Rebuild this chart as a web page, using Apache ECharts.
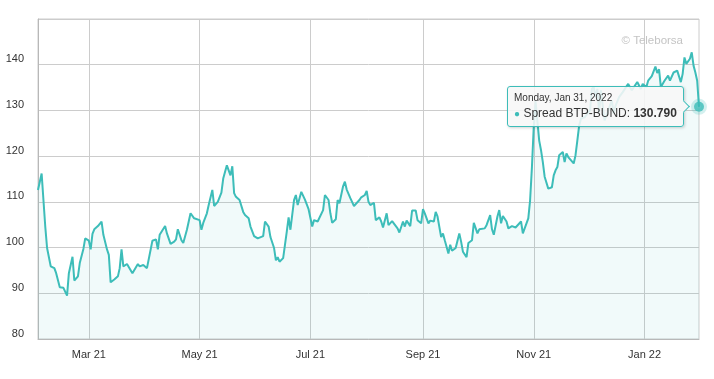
<!DOCTYPE html>
<html>
<head>
<meta charset="utf-8">
<script src="https://cdn.jsdelivr.net/npm/echarts@6/dist/echarts.min.js"></script>
<style>
html,body{margin:0;padding:0;background:#fff;}
#c{width:714px;height:379px;}
</style>
</head>
<body>
<div id="c"></div>
<script>
var seriesName = 'Spread BTP-BUND';
var yTicks = [80, 90, 100, 110, 120, 130, 140];
var xTickDates = ['2021-03-01', '2021-05-01', '2021-07-01', '2021-09-01', '2021-11-01', '2022-01-01'];
var dates = [
'2021-02-01','2021-02-03','2021-02-05','2021-02-06','2021-02-08','2021-02-10','2021-02-11','2021-02-13','2021-02-15','2021-02-16',
'2021-02-17','2021-02-18','2021-02-20','2021-02-21','2021-02-23','2021-02-24','2021-02-26','2021-02-27','2021-03-01','2021-03-02',
'2021-03-03','2021-03-04','2021-03-06','2021-03-08','2021-03-09','2021-03-11','2021-03-12','2021-03-13','2021-03-15','2021-03-17',
'2021-03-18','2021-03-19','2021-03-20','2021-03-22','2021-03-23','2021-03-25','2021-03-26','2021-03-28','2021-03-29','2021-03-31',
'2021-04-02','2021-04-03','2021-04-05','2021-04-07','2021-04-08','2021-04-09','2021-04-10','2021-04-12','2021-04-13','2021-04-15',
'2021-04-17','2021-04-18','2021-04-19','2021-04-21','2021-04-22','2021-04-24','2021-04-25','2021-04-26','2021-04-28','2021-04-29',
'2021-05-01','2021-05-02','2021-05-03','2021-05-05','2021-05-06','2021-05-08','2021-05-09','2021-05-11','2021-05-13','2021-05-14',
'2021-05-16','2021-05-18','2021-05-19','2021-05-20','2021-05-21','2021-05-23','2021-05-25','2021-05-26','2021-05-28','2021-05-29',
'2021-05-30','2021-05-31','2021-06-02','2021-06-03','2021-06-05','2021-06-06','2021-06-08','2021-06-09','2021-06-11','2021-06-12',
'2021-06-13','2021-06-14','2021-06-16','2021-06-17','2021-06-18','2021-06-19','2021-06-20','2021-06-22','2021-06-23','2021-06-24',
'2021-06-26','2021-06-28','2021-06-30','2021-07-02','2021-07-03','2021-07-05','2021-07-06','2021-07-08','2021-07-09','2021-07-11',
'2021-07-12','2021-07-13','2021-07-15','2021-07-16','2021-07-17','2021-07-19','2021-07-20','2021-07-21','2021-07-23','2021-07-25',
'2021-07-26','2021-07-28','2021-07-29','2021-07-31','2021-08-01','2021-08-02','2021-08-03','2021-08-05','2021-08-06','2021-08-08',
'2021-08-09','2021-08-10','2021-08-12','2021-08-13','2021-08-15','2021-08-16','2021-08-18','2021-08-19','2021-08-21','2021-08-22',
'2021-08-23','2021-08-25','2021-08-26','2021-08-28','2021-08-29','2021-08-31','2021-09-01','2021-09-02','2021-09-04','2021-09-05',
'2021-09-07','2021-09-08','2021-09-09','2021-09-11','2021-09-12','2021-09-13','2021-09-15','2021-09-16','2021-09-17','2021-09-19',
'2021-09-20','2021-09-21','2021-09-22','2021-09-23','2021-09-25','2021-09-26','2021-09-28','2021-09-29','2021-10-01','2021-10-02',
'2021-10-03','2021-10-05','2021-10-06','2021-10-08','2021-10-09','2021-10-10','2021-10-12','2021-10-13','2021-10-14','2021-10-15',
'2021-10-16','2021-10-17','2021-10-18','2021-10-20','2021-10-22','2021-10-23','2021-10-25','2021-10-26','2021-10-28','2021-10-29',
'2021-10-30','2021-10-31','2021-11-01','2021-11-02','2021-11-04','2021-11-05','2021-11-06','2021-11-07','2021-11-08','2021-11-09',
'2021-11-11','2021-11-12','2021-11-13','2021-11-14','2021-11-15','2021-11-17','2021-11-18','2021-11-19','2021-11-20','2021-11-21',
'2021-11-23','2021-11-24','2021-11-25','2021-11-26','2021-11-27','2021-11-29','2021-12-01','2021-12-02','2021-12-03','2021-12-04',
'2021-12-05','2021-12-06','2021-12-07','2021-12-08','2021-12-10','2021-12-12','2021-12-14','2021-12-15','2021-12-16','2021-12-18',
'2021-12-20','2021-12-23','2021-12-25','2021-12-26','2021-12-28','2021-12-30','2021-12-31','2022-01-02','2022-01-03','2022-01-05',
'2022-01-07','2022-01-08','2022-01-09','2022-01-10','2022-01-12','2022-01-14','2022-01-15','2022-01-17','2022-01-19','2022-01-21',
'2022-01-22','2022-01-23','2022-01-24','2022-01-26','2022-01-27','2022-01-28','2022-01-29','2022-01-30','2022-01-31'
];
var values = [
112.6,116.2,104.6,99.9,95.9,95.5,94.4,91.3,91.2,90.8,
89.5,94.4,98.0,92.8,93.7,96.6,99.7,102.0,101.5,99.6,
103.0,104.0,104.7,105.7,102.8,99.6,98.4,92.4,93.0,93.7,
95.5,99.6,95.9,96.4,96.2,94.4,94.8,96.4,95.9,96.2,
95.5,95.1,101.5,101.8,99.6,102.8,102.5,104.7,103.1,100.8,
101.3,101.8,104.0,101.6,101.0,103.9,105.7,107.5,106.4,106.8,
106.0,103.9,105.4,107.5,109.3,112.6,109.1,110.0,112.0,115.1,
118.0,115.8,117.8,111.9,111.1,110.4,107.8,107.1,106.4,104.6,
104.4,102.5,102.0,101.8,102.5,105.7,104.6,102.3,99.9,97.2,
97.9,96.9,97.7,100.6,103.5,106.6,103.9,110.4,111.5,109.3,
112.2,110.5,108.4,104.6,106.0,105.7,105.3,108.2,111.5,110.4,
107.5,105.4,106.2,110.4,109.7,113.4,114.4,112.7,110.8,109.1,
108.9,110.4,111.0,111.5,112.4,110.0,109.3,109.8,106.0,106.6,
105.7,104.4,107.5,104.9,105.8,105.4,104.2,103.3,105.7,104.6,
105.9,104.7,108.1,108.1,106.0,105.3,108.4,107.5,105.3,105.9,
105.7,107.8,106.8,102.3,103.1,101.6,98.7,100.6,99.3,99.9,
101.5,103.1,101.3,99.1,97.9,101.0,101.6,105.4,103.1,104.0,
103.9,104.2,104.9,107.1,104.0,102.8,106.8,108.2,105.3,106.9,
106.6,105.7,104.2,104.7,104.4,104.0,105.7,103.1,105.3,106.4,
110.4,117.6,126.4,132.0,123.4,121.3,118.7,115.5,115.1,112.9,
113.2,115.8,116.9,117.6,120.2,120.9,118.7,120.6,119.8,119.5,
118.4,120.2,123.4,126.7,128.2,128.5,129.5,130.0,134.7,135.2,
132.9,134.7,129.6,134.4,127.8,130.0,132.2,129.3,131.0,132.9,
134.0,135.8,134.4,135.0,136.2,134.7,135.8,135.1,136.5,137.5,
139.6,138.2,139.0,135.1,136.5,137.6,136.5,138.3,138.7,136.2,
138.0,141.6,140.2,141.3,142.7,139.8,138.3,136.5,130.79
];

var teal = '#3dbdb9';
var font = '"Liberation Sans", Arial, Helvetica, sans-serif';
var monthNames = ['Jan','Feb','Mar','Apr','May','Jun','Jul','Aug','Sep','Oct','Nov','Dec'];
var dayNames = ['Sunday','Monday','Tuesday','Wednesday','Thursday','Friday','Saturday'];
function ts(s){ var p = s.split('-'); return Date.UTC(+p[0], +p[1]-1, +p[2]); }

var lineData = dates.map(function(d,i){ return [ts(d), values[i]]; });
var lastIdx = dates.length - 1;
var lastPoint = [[ts(dates[lastIdx]), values[lastIdx]]];
var xTicks = xTickDates.map(ts);

var chart = echarts.init(document.getElementById('c'), null, {renderer:'canvas'});
chart.setOption({
  animation: false,
  backgroundColor: '#ffffff',
  textStyle: {fontFamily: font},
  grid: {left: 38, right: 15, top: 19, bottom: 40, show: true, borderColor: '#cccccc', borderWidth: 1},
  xAxis: {
    type: 'value',
    min: ts('2021-02-01'),
    max: ts('2022-01-31'),
    axisLine: {show: true, onZero: false, lineStyle: {color: '#b8b8b8', width: 1}},
    axisTick: {show: false, customValues: xTicks},
    splitLine: {show: true, lineStyle: {color: '#cccccc', width: 1}},
    axisLabel: {
      customValues: xTicks,
      color: '#333333', fontSize: 11, fontFamily: font, margin: 10,
      formatter: function(v){ var d = new Date(v); return monthNames[d.getUTCMonth()] + ' ' + String(d.getUTCFullYear()).slice(2); }
    }
  },
  yAxis: {
    type: 'value',
    min: 80, max: 150, interval: 10,
    axisLine: {show: true, lineStyle: {color: '#b8b8b8'}},
    axisTick: {show: false},
    splitLine: {show: true, lineStyle: {color: '#cccccc', width: 1}},
    axisLabel: {
      showMaxLabel: false,
      color: '#333333', fontSize: 11, fontFamily: font, margin: 14,
      verticalAlign: 'bottom',
      formatter: function(v){ return yTicks.indexOf(v) >= 0 ? String(v) : ''; }
    }
  },
  tooltip: {
    show: true,
    trigger: 'item',
    triggerOn: 'none',
    alwaysShowContent: true,
    position: function(point, params, dom, rect, size){
      var cx = rect ? rect.x + rect.width / 2 : point[0];
      var cy = rect ? rect.y + rect.height / 2 : point[1];
      return [cx - size.contentSize[0] - 15, cy - size.contentSize[1] / 2];
    },
    backgroundColor: 'rgba(247,247,247,0.88)',
    borderColor: teal,
    borderWidth: 1,
    borderRadius: 3,
    padding: [4, 6],
    extraCssText: 'box-shadow:1px 1px 3px rgba(0,0,0,0.18);overflow:visible;',
    textStyle: {fontFamily: font, color: '#333333'},
    formatter: function(p){
      var d = new Date(p.value[0]);
      var head = dayNames[d.getUTCDay()] + ', ' + monthNames[d.getUTCMonth()] + ' ' + d.getUTCDate() + ', ' + d.getUTCFullYear();
      return '<div style="font-size:10px;line-height:14px;color:#333">' + head + '</div>' +
        '<div style="font-size:12px;line-height:16px;color:#333"><span style="color:' + teal + ';font-size:10px">\u25CF</span> ' +
        seriesName + ': <b>' + p.value[1].toFixed(3) + '</b></div>' +
        '<div style="position:absolute;right:-5px;top:50%;margin-top:-5px;width:8px;height:8px;background:rgb(247,247,247);' +
        'border-right:1px solid ' + teal + ';border-top:1px solid ' + teal + ';transform:rotate(45deg);"></div>';
    }
  },
  graphic: [{
    type: 'text', right: 31, top: 35, z: 50,
    style: {text: '\u00A9 Teleborsa', fill: '#c4c4c4', font: '11.5px ' + font}
  }],
  series: [{
    name: seriesName,
    type: 'line',
    data: lineData,
    showSymbol: false,
    symbol: 'none',
    lineStyle: {color: teal, width: 2},
    areaStyle: {color: 'rgba(61,189,185,0.10)', origin: 'start'},
    emphasis: {disabled: true},
    silent: true,
    z: 2
  }, {
    name: seriesName,
    type: 'scatter',
    data: lastPoint,
    symbol: 'circle',
    symbolSize: 10,
    itemStyle: {color: teal, borderColor: 'rgba(61,189,185,0.28)', borderWidth: 6},
    emphasis: {disabled: true, scale: false},
    clip: false,
    z: 5
  }]
});
chart.dispatchAction({type: 'showTip', seriesIndex: 1, dataIndex: 0});
</script>
</body>
</html>
